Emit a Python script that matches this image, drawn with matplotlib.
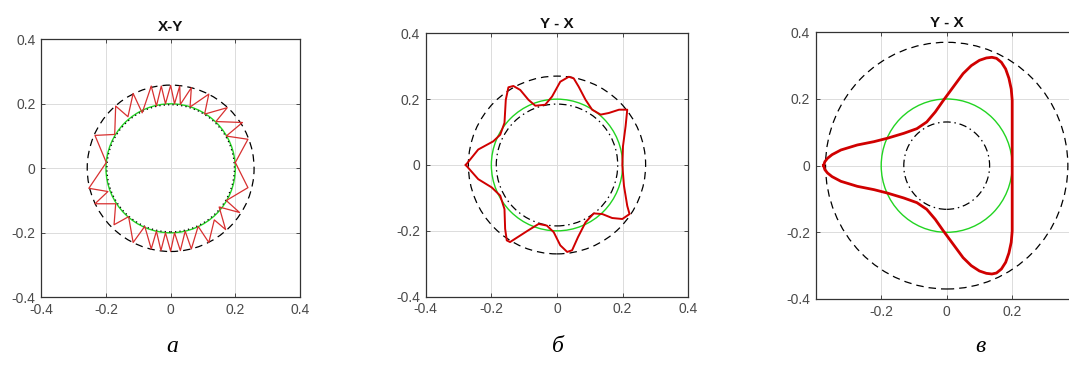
import numpy as np
import matplotlib
matplotlib.use("Agg")
import matplotlib.pyplot as plt
from matplotlib.patches import Circle

plt.rcParams["font.family"] = ["Liberation Sans", "DejaVu Sans"]

# ---- panel a: X-Y trace ----
a_title = "X-Y"
a_circle_green = 0.20
a_circle_dotted = 0.197
a_circle_dashed = 0.258
a_x = [0.200, 0.239, 0.172, 0.222, 0.140, 0.175, 0.105, 0.118, 0.060, 0.064, 0.030,
       0.028, 0.012, 0.000, -0.016, -0.029, -0.044, -0.060, -0.088, -0.116, -0.132,
       -0.170, -0.173, -0.234, -0.199, -0.253, -0.194, -0.234, -0.170, -0.175, -0.130,
       -0.116, -0.080, -0.060, -0.044, -0.030, -0.016, 0.000, 0.012, 0.030, 0.045,
       0.064, 0.085, 0.118, 0.135, 0.170, 0.150, 0.213, 0.172, 0.239, 0.200]
a_y = [0.018, 0.090, 0.100, 0.142, 0.145, 0.188, 0.168, 0.230, 0.190, 0.250, 0.198,
       0.255, 0.200, 0.257, 0.200, 0.255, 0.193, 0.255, 0.172, 0.232, 0.160,
       0.193, 0.105, 0.102, 0.018, -0.062, -0.072, -0.110, -0.110, -0.175, -0.150,
       -0.230, -0.180, -0.250, -0.195, -0.255, -0.200, -0.257, -0.200, -0.255, -0.195,
       -0.250, -0.180, -0.230, -0.160, -0.190, -0.120, -0.137, -0.100, -0.060, 0.018]

# ---- panel b: Y - X trace ----
b_title = "Y - X"
b_circle_green = 0.20
b_circle_dashdot = 0.185
b_circle_dashed = 0.270
b_x = [-0.278, -0.240, -0.194, -0.173, -0.160, -0.156, -0.148, -0.133, -0.112, -0.087,
       -0.066, -0.036, -0.015, 0.010, 0.036, 0.051, 0.066, 0.087, 0.107, 0.133, 0.158,
       0.189, 0.214, 0.209, 0.201, 0.199, 0.204, 0.214, 0.221, 0.199, 0.168, 0.138,
       0.112, 0.087, 0.064, 0.046, 0.031, 0.010, -0.010, -0.031, -0.056, -0.090,
       -0.143, -0.153, -0.158, -0.160, -0.173, -0.199, -0.240, -0.278]
b_y = [0.000, 0.047, 0.072, 0.092, 0.128, 0.198, 0.236, 0.240, 0.228, 0.198,
       0.180, 0.183, 0.208, 0.253, 0.268, 0.263, 0.238, 0.198, 0.168, 0.153, 0.158,
       0.168, 0.168, 0.118, 0.057, 0.000, -0.063, -0.124, -0.149, -0.164, -0.161, -0.149,
       -0.147, -0.174, -0.219, -0.259, -0.264, -0.244, -0.204, -0.184, -0.179, -0.200,
       -0.234, -0.229, -0.194, -0.134, -0.093, -0.068, -0.043, 0.000]

# ---- panel c: Y - X trace (upper half, mirrored below) ----
c_title = "Y - X"
c_circle_green = 0.20
c_circle_dashdot = 0.131
c_circle_dashed = 0.370
c_x_upper = [-0.376, -0.372, -0.364, -0.350, -0.323, -0.273, -0.222, -0.182, -0.131,
             -0.091, -0.061, -0.035, -0.010, 0.020, 0.050, 0.075, 0.100, 0.121, 0.138,
             0.152, 0.167, 0.180, 0.190, 0.197, 0.200, 0.200]
c_y_upper = [0.000, 0.012, 0.022, 0.033, 0.047, 0.062, 0.072, 0.082, 0.097,
             0.111, 0.131, 0.161, 0.196, 0.236, 0.276, 0.300, 0.316, 0.323, 0.325,
             0.322, 0.310, 0.290, 0.262, 0.230, 0.196, 0.000]

panel_letters = ["а", "б", "в"]
tick_vals = [-0.4, -0.2, 0, 0.2, 0.4]
tick_text = ["-0.4", "-0.2", "0", "0.2", "0.4"]

RED = "#d00000"
GREEN = "#22d422"
DASH = (0, (6, 4))
DASHDOT = (0, (6, 3, 1.2, 3))

W, H = 1069, 367
fig = plt.figure(figsize=(W / 100, H / 100), dpi=100)
fig.patch.set_facecolor("white")


def make_axes(left, top, right, bottom):
    return fig.add_axes([left / W, 1 - bottom / H, (right - left) / W, (bottom - top) / H])


def style(ax, xlim, ylim, title, title_pad):
    ax.set_xlim(*xlim)
    ax.set_ylim(*ylim)
    ax.set_xticks(tick_vals)
    ax.set_yticks(tick_vals)
    ax.set_xticklabels(tick_text)
    ax.set_yticklabels(tick_text)
    ax.grid(True, color="#dcdcdc", lw=0.7)
    ax.set_axisbelow(True)
    ax.tick_params(direction="in", length=3, width=0.6, colors="#303030",
                   labelcolor="#4a4a4a", labelsize=10, top=True, right=True, pad=4)
    for s in ax.spines.values():
        s.set_color("#333333")
        s.set_linewidth(0.9)
    ax.set_title(title, fontsize=11, fontweight="bold", color="#111111", pad=title_pad)


def circle(ax, r, **kw):
    ax.add_patch(Circle((0, 0), r, fill=False, **kw))


# panel a
ax1 = make_axes(41.3, 39.3, 300.0, 297.3)
style(ax1, (-0.4, 0.4), (-0.4, 0.4), a_title, 6)
circle(ax1, a_circle_dashed, ec="black", lw=0.9, ls=DASH)
circle(ax1, a_circle_green, ec=GREEN, lw=1.0)
circle(ax1, a_circle_dotted, ec="black", lw=0.9, ls=(0, (1, 2.5)))
ax1.plot(a_x, a_y, color="#d83030", lw=0.9)

# panel b
ax2 = make_axes(425.7, 33.3, 688.3, 296.7)
style(ax2, (-0.4, 0.4), (-0.4, 0.4), b_title, 4)
circle(ax2, b_circle_dashed, ec="black", lw=0.9, ls=DASH)
circle(ax2, b_circle_green, ec=GREEN, lw=1.0)
circle(ax2, b_circle_dashdot, ec="black", lw=0.9, ls=DASHDOT)
ax2.plot(b_x, b_y, color=RED, lw=1.4)

# panel c
ax3 = make_axes(815.7, 32.3, 1077.7, 299.0)
style(ax3, (-0.395, 0.395), (-0.4, 0.4), c_title, 4)
ax3.set_xticks([-0.2, 0, 0.2])
ax3.set_xticklabels(["-0.2", "0", "0.2"])
circle(ax3, c_circle_dashed, ec="black", lw=0.9, ls=DASH)
circle(ax3, c_circle_green, ec=GREEN, lw=1.0)
circle(ax3, c_circle_dashdot, ec="black", lw=0.9, ls=DASHDOT)
cx = c_x_upper + c_x_upper[::-1]
cy = c_y_upper + [-v for v in c_y_upper[::-1]]
ax3.plot(cx, cy, color=RED, lw=2.0)

# panel letters
for xpix, letter in zip([172, 558, 980], panel_letters):
    fig.text(xpix / W, 1 - 346 / H, letter, ha="center", va="center",
             fontsize=17, fontstyle="italic", family="Liberation Serif")

fig.savefig("out.png", dpi=100)
